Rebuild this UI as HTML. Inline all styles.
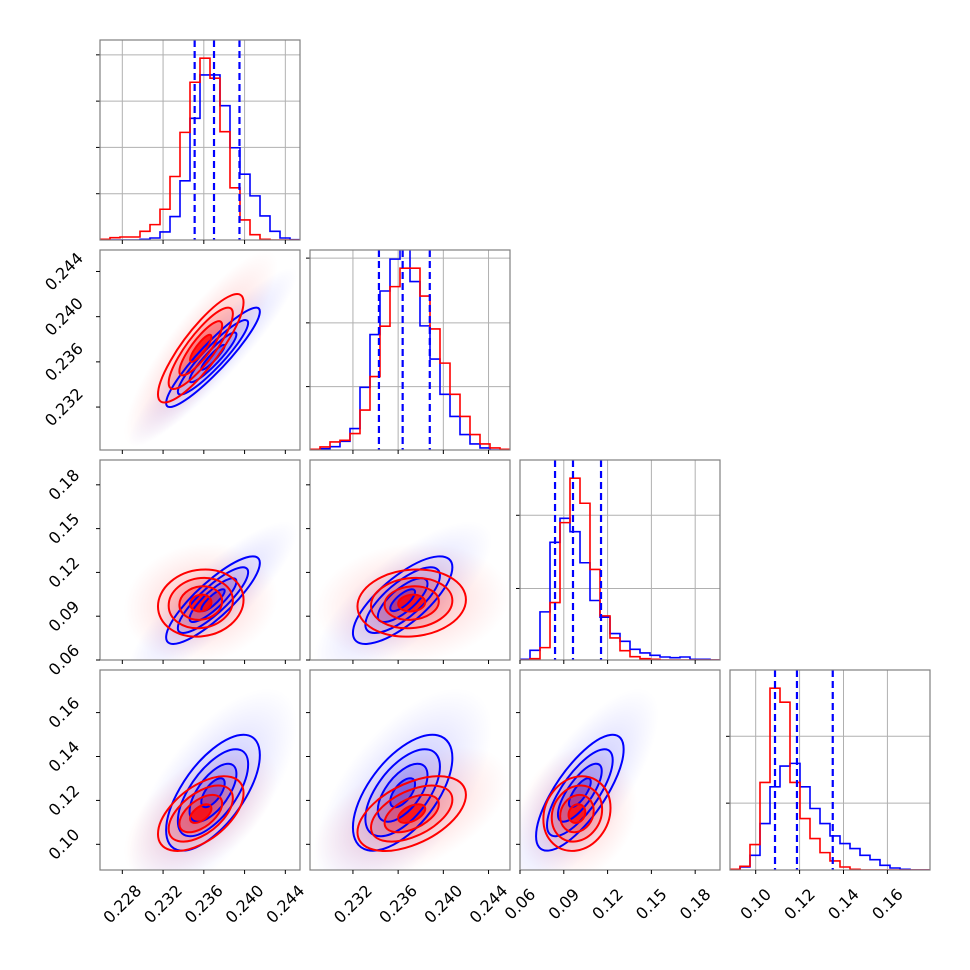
<!DOCTYPE html>
<html><head><meta charset="utf-8"><style>
html,body{margin:0;padding:0;background:#fff;}
svg{display:block;font-family:"DejaVu Sans","Liberation Sans",sans-serif;}
</style></head><body>
<svg id="fig" width="970" height="970" viewBox="0 0 970 970" xmlns="http://www.w3.org/2000/svg">
<defs>
<radialGradient id="gB"><stop offset="0" stop-color="#6f6fff" stop-opacity="0.4"/><stop offset="0.55" stop-color="#8f8fff" stop-opacity="0.2"/><stop offset="1" stop-color="#a0a0ff" stop-opacity="0"/></radialGradient>
<radialGradient id="gR"><stop offset="0" stop-color="#ff6f6f" stop-opacity="0.4"/><stop offset="0.55" stop-color="#ff8f8f" stop-opacity="0.2"/><stop offset="1" stop-color="#ffa0a0" stop-opacity="0"/></radialGradient>
</defs>
</svg>
<script>
// ---- data ----
const paramLo = [0.22581, 0.2282, 0.06, 0.0883];
const paramHi = [0.24544, 0.2459, 0.197, 0.1794];
const ticks0 = [0.228, 0.232, 0.236, 0.240, 0.244];
const ticks1 = [0.232, 0.236, 0.240, 0.244];
const ticks2 = [0.06, 0.09, 0.12, 0.15, 0.18];
const ticks3 = [0.10, 0.12, 0.14, 0.16];
const labels0 = ["0.228","0.232","0.236","0.240","0.244"];
const labels1 = ["0.232","0.236","0.240","0.244"];
const labels2 = ["0.06","0.09","0.12","0.15","0.18"];
const labels3 = ["0.10","0.12","0.14","0.16"];
// histogram counts (20 bins each)
const histBlue0 = [0,0,0,0,2,6,24,70,177,364,494,494,402,276,197,132,72,26,6,1];
const histRed0  = [2,7,9,9,26,46,92,190,322,472,544,484,324,156,60,16,2,0,0,0];
const histBlue1 = [0,4,10,26,64,187,344,474,569,640,502,370,271,166,100,46,18,6,0,0];
const histRed1  = [2,9,24,29,49,119,219,369,487,542,542,459,361,259,166,100,46,18,6,2];
const histBlue2 = [2,29,144,352,424,384,291,178,128,79,56,32,21,14,9,7,9,2,2,0];
const histRed2  = [0,4,37,172,411,544,469,271,132,66,28,10,4,2,0,0,0,0,0,0];
const histBlue3 = [2,9,44,139,249,311,319,249,184,139,102,79,64,44,31,14,6,2,0,0];
const histRed3  = [2,11,76,262,544,502,262,154,94,52,27,9,2,0,0,0,0,0,0,0];
const histYTicks0 = [138.5, 277, 415.5, 554];
const histYTicks1 = [189, 379, 572];
const histYTicks2 = [214, 433];
const histYTicks3 = [200, 400];
// quantile lines (16/50/84)
const quant0 = [0.2351, 0.2370, 0.2395];
const quant1 = [0.2343, 0.2364, 0.2388];
const quant2 = [0.0840, 0.0963, 0.1155];
const quant3 = [0.1088, 0.1188, 0.1351];
// gaussian summaries of each sample
const blueMean = [0.2369, 0.2364, 0.101, 0.1235];
const blueSd   = [0.0023, 0.0022, 0.0150, 0.0132];
const redMean  = [0.2357, 0.2372, 0.0990, 0.1140];
const redSd    = [0.0021, 0.0024, 0.0115, 0.0085];
// correlations for pairs (0,1),(0,2),(0,3),(1,2),(1,3),(2,3)
const blueCorr = [0.92, 0.85, 0.65, 0.75, 0.6, 0.75];
const redCorr  = [0.85, 0.10, 0.55, 0.10, 0.5, 0.15];
const sigmaLevels = [2, 1.5, 1, 0.5];

// ---- layout ----
const NS = "http://www.w3.org/2000/svg";
const svg = document.getElementById('fig');
const X0 = [100, 310, 520, 730], Y0 = [40, 250, 460, 670], W = 200;
const allTicks = [ticks0, ticks1, ticks2, ticks3];
const allLabels = [labels0, labels1, labels2, labels3];
const hB = [histBlue0, histBlue1, histBlue2, histBlue3];
const hR = [histRed0, histRed1, histRed2, histRed3];
const hT = [histYTicks0, histYTicks1, histYTicks2, histYTicks3];
const qs = [quant0, quant1, quant2, quant3];
function pairIdx(i, j) { const m = {"0,1":0,"0,2":1,"0,3":2,"1,2":3,"1,3":4,"2,3":5}; return m[i + "," + j]; }
function sx(p, col) { return v => X0[col] + (v - paramLo[p]) / (paramHi[p] - paramLo[p]) * W; }
function sy(p, row) { return v => Y0[row] + W - (v - paramLo[p]) / (paramHi[p] - paramLo[p]) * W; }
function mk(tag, attrs, parent) {
  const e = document.createElementNS(NS, tag);
  for (const k in attrs) e.setAttribute(k, attrs[k]);
  (parent || svg).appendChild(e); return e;
}

function drawAxesDecor(row, col, g) {
  const x0 = X0[col], y0 = Y0[row];
  const fx = sx(col, col);
  allTicks[col].forEach((t, k) => {
    const x = fx(t);
    const tk = mk('line', {x1:x, x2:x, y1:y0+W, y2:y0+W+4, stroke:'#000', 'stroke-width':1}, g);
    
    
    if (row === 3) {
      const tx = mk('text', {x:x, y:904, 'font-size':16, 'text-anchor':'middle', 'dominant-baseline':'central', transform:`rotate(-45 ${x} 904)`}, g);
      tx.textContent = allLabels[col][k];
      
      
    }
  });
  if (row !== col) {
    const fy = sy(row, row);
    allTicks[row].forEach((t, k) => {
      const y = fy(t);
      const tk = mk('line', {x1:x0-4, x2:x0, y1:y, y2:y, stroke:'#000', 'stroke-width':1}, g);
      
      
      if (col === 0) {
        const tx = mk('text', {x:64, y:y, 'font-size':16, 'text-anchor':'middle', 'dominant-baseline':'central', transform:`rotate(-45 64 ${y})`}, g);
        tx.textContent = allLabels[row][k];
        
        
      }
    });
  }
}

function ellipseMatrix(cx, cy, sxp, syp, r) {
  return `matrix(${sxp},${-r*syp},0,${-syp*Math.sqrt(1-r*r)},${cx},${cy})`;
}

function draw2D(row, col) {
  const g = mk('g', {});
  
  
  const cid = `clip${row}${col}`;
  const cp = mk('clipPath', {id:cid}, g);
  mk('rect', {x:X0[col], y:Y0[row], width:W, height:W}, cp);
  const inner = mk('g', {'clip-path':`url(#${cid})`}, g);
  const fx = sx(col, col), fy = sy(row, row);
  const kx = W / (paramHi[col] - paramLo[col]), ky = W / (paramHi[row] - paramLo[row]);
  const pi = pairIdx(col, row);
  const sets = [
    {name:'blue', mean:blueMean, sd:blueSd, corr:blueCorr, col:'#0000ff', grad:'gB', op:[0.03,0.06,0.12,0.3]},
    {name:'red', mean:redMean, sd:redSd, corr:redCorr, col:'#ff0000', grad:'gR', op:[0.05,0.12,0.25,0.75]}
  ];
  sets.forEach(s => {
    const cx = fx(s.mean[col]), cy = fy(s.mean[row]);
    const m = ellipseMatrix(cx, cy, s.sd[col]*kx, s.sd[row]*ky, s.corr[pi]);
    const halo = mk('circle', {cx:0, cy:0, r:3.6, fill:`url(#${s.grad})`, transform:m}, inner);
    
    
  });
  sets.forEach(s => {
    const cx = fx(s.mean[col]), cy = fy(s.mean[row]);
    const m = ellipseMatrix(cx, cy, s.sd[col]*kx, s.sd[row]*ky, s.corr[pi]);
    sigmaLevels.forEach((lv, k) => {
      const f = mk('circle', {cx:0, cy:0, r:lv, fill:s.col, 'fill-opacity':s.op[k], stroke:'none', transform:m}, inner);
      
      
    });
  });
  sets.forEach(s => {
    const cx = fx(s.mean[col]), cy = fy(s.mean[row]);
    const m = ellipseMatrix(cx, cy, s.sd[col]*kx, s.sd[row]*ky, s.corr[pi]);
    sigmaLevels.forEach(lv => {
      const c = mk('circle', {cx:0, cy:0, r:lv, fill:'none', stroke:s.col, 'stroke-width':2, 'vector-effect':'non-scaling-stroke', transform:m}, inner);
      
      
    });
  });
  const fr = mk('rect', {x:X0[col], y:Y0[row], width:W, height:W, fill:'none', stroke:'#808080', 'stroke-width':1.2}, g);
  
  
  drawAxesDecor(row, col, g);
}

function drawHist(p) {
  const g = mk('g', {});
  
  
  const cid = `hclip${p}`;
  const cp = mk('clipPath', {id:cid}, g);
  mk('rect', {x:X0[p], y:Y0[p], width:W, height:W}, cp);
  const inner = mk('g', {'clip-path':`url(#${cid})`}, g);
  const fx = sx(p, p);
  const ymax = 1.1 * Math.max(...hR[p]);
  const fyh = v => Y0[p] + W - v / ymax * W;
  allTicks[p].forEach(t => {
    const gl = mk('line', {x1:fx(t), x2:fx(t), y1:Y0[p], y2:Y0[p]+W, stroke:'#b0b0b0', 'stroke-width':1}, inner);
    
    
  });
  hT[p].forEach(t => {
    const gl = mk('line', {x1:X0[p], x2:X0[p]+W, y1:fyh(t), y2:fyh(t), stroke:'#b0b0b0', 'stroke-width':1}, inner);
    
    
    const tk = mk('line', {x1:X0[p]-4, x2:X0[p], y1:fyh(t), y2:fyh(t), stroke:'#000', 'stroke-width':1}, g);
    
    
  });
  const n = 20, bw = (paramHi[p] - paramLo[p]) / n;
  [['blue', hB[p], '#0000ff'], ['red', hR[p], '#ff0000']].forEach(([nm, arr, c]) => {
    let d = `M${fx(paramLo[p])},${fyh(0)}`;
    arr.forEach((v, i) => {
      d += ` L${fx(paramLo[p] + i*bw)},${fyh(v)} L${fx(paramLo[p] + (i+1)*bw)},${fyh(v)}`;
    });
    d += ` L${fx(paramHi[p])},${fyh(0)}`;
    const path = mk('path', {d:d, fill:'none', stroke:c, 'stroke-width':1.6}, inner);
    
    
  });
  qs[p].forEach(q => {
    const l = mk('line', {x1:fx(q), x2:fx(q), y1:Y0[p], y2:Y0[p]+W, stroke:'#0000ff', 'stroke-width':2.2, 'stroke-dasharray':'7,4'}, inner);
    
    
  });
  const fr = mk('rect', {x:X0[p], y:Y0[p], width:W, height:W, fill:'none', stroke:'#808080', 'stroke-width':1.2}, g);
  
  
  drawAxesDecor(p, p, g);
}

for (let r = 0; r < 4; r++) {
  for (let c = 0; c <= r; c++) {
    if (r === c) drawHist(r); else draw2D(r, c);
  }
}
</script>
</body></html>
